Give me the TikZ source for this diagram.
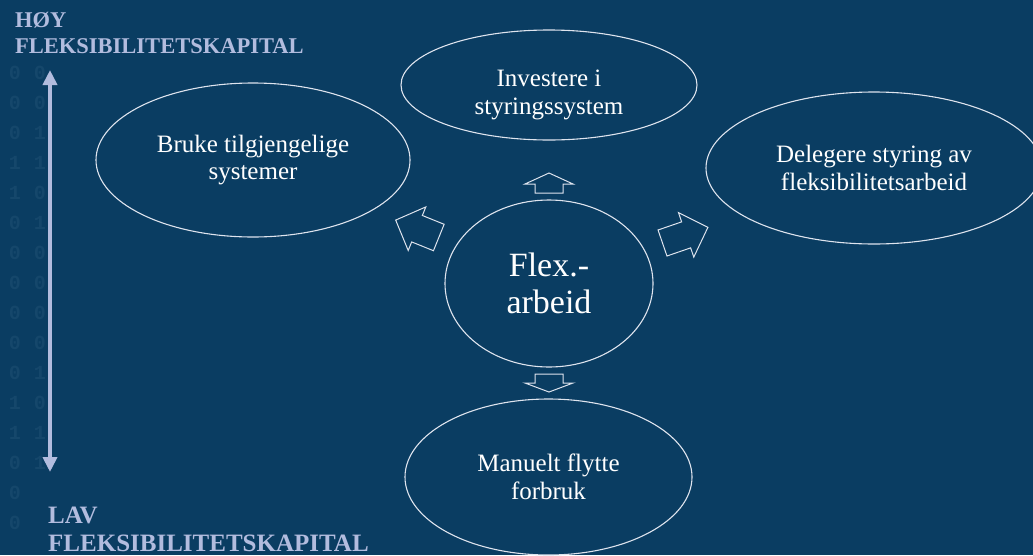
\documentclass[tikz,border=0pt]{standalone}
\usepackage{fontspec}
\setmainfont{Liberation Serif}
\newfontfamily\bitfont{Liberation Mono}
\usetikzlibrary{shapes.geometric,arrows.meta}
\definecolor{bgblue}{RGB}{10,61,98}
\definecolor{axiscol}{RGB}{178,188,222}
\definecolor{rimcol}{RGB}{222,228,238}
\definecolor{digitcol}{RGB}{21,71,107}

% hollow block arrow: base centre at origin, pointing along +x
% #1 total length, #2 head length, #3 head width, #4 shaft width
\newcommand{\hollowarrow}[4]{%
  \draw[hollow] (0,-#4/2) -- (#1-#2,-#4/2) -- (#1-#2,-#3/2) -- (#1,0)
    -- (#1-#2,#3/2) -- (#1-#2,#4/2) -- (0,#4/2) -- cycle;}

\begin{document}
\begin{tikzpicture}[x=1pt,y=-1pt,
  bubble/.style={ellipse, draw=rimcol, line width=1.1pt, text=white,
    align=center, inner sep=0pt, font=\fontsize{25}{27.5}\selectfont},
  axislabel/.style={anchor=base west, text=axiscol, inner sep=0pt},
  hollow/.style={draw=rimcol, line width=1pt, line join=miter},
  bit/.style={text=digitcol, inner sep=0pt,
    font=\fontsize{20}{20}\selectfont\bitfont\bfseries}
]
% page and background
\fill[bgblue] (0,0) rectangle (1033,555);
\useasboundingbox (0,0) rectangle (1033,555);

% faint binary pattern along the left edge
\foreach \d [count=\i from 0] in {0,0,0,1,1,0,0,0,0,0,0,1,1,0,0,0}
  \node[bit] (bita-\i) at (15,73+30*\i) {\d};
\foreach \d [count=\i from 0] in {0,0,1,1,0,1,0,0,0,0,1,0,1,1}
  \node[bit] (bitb-\i) at (40,73+30*\i) {\d};

% vertical scale
\coordinate (axtop) at (50,70);
\coordinate (axbot) at (50,472);
\draw[axiscol, line width=4pt,
  {Triangle[width=14pt,length=15pt]}-{Triangle[width=14pt,length=15pt]}]
  (axtop) -- (axbot);

\node[axislabel, font=\bfseries\fontsize{22.5}{26}\selectfont] (hoy1) at (15,27) {HØY};
\node[axislabel, font=\bfseries\fontsize{22.5}{26}\selectfont] (hoy2) at (15,53) {FLEKSIBILITETSKAPITAL};
\node[axislabel, font=\bfseries\fontsize{25}{28}\selectfont] (lav1) at (48,523) {LAV};
\node[axislabel, font=\bfseries\fontsize{25}{28}\selectfont] (lav2) at (48,551) {FLEKSIBILITETSKAPITAL};

% ellipses
\node[bubble, minimum width=296pt, minimum height=110pt] (inv) at (549,85)
  {\rule{0pt}{36pt}Investere i\\styringssystem};
\node[bubble, minimum width=314pt, minimum height=154pt] (bruke) at (253,160)
  {Bruke tilgjengelige\\systemer};
\node[bubble, minimum width=336pt, minimum height=152pt] (deleg) at (874,168)
  {Delegere styring av\\fleksibilitetsarbeid};
\node[bubble, minimum width=208pt, minimum height=167pt,
  font=\fontsize{34}{37}\selectfont] (flex) at (549,283.5) {Flex.-\\arbeid};
\node[bubble, minimum width=287pt, minimum height=156pt] (man) at (548.5,477)
  {Manuelt flytte\\forbruk};

% hollow block arrows around the centre
\begin{scope}[shift={(549,193)}, rotate=90]
  \hollowarrow{20}{11}{48}{28}
\end{scope}
\begin{scope}[shift={(549,374)}, rotate=-90]
  \hollowarrow{18}{9}{48}{28}
\end{scope}
\begin{scope}[shift={(438.8,237.5)}, rotate=158]
  \hollowarrow{46.5}{23}{47}{28.5}
\end{scope}
\begin{scope}[shift={(662.5,243)}, rotate=19]
  \hollowarrow{48}{23}{47}{27.5}
\end{scope}
\end{tikzpicture}
\end{document}
